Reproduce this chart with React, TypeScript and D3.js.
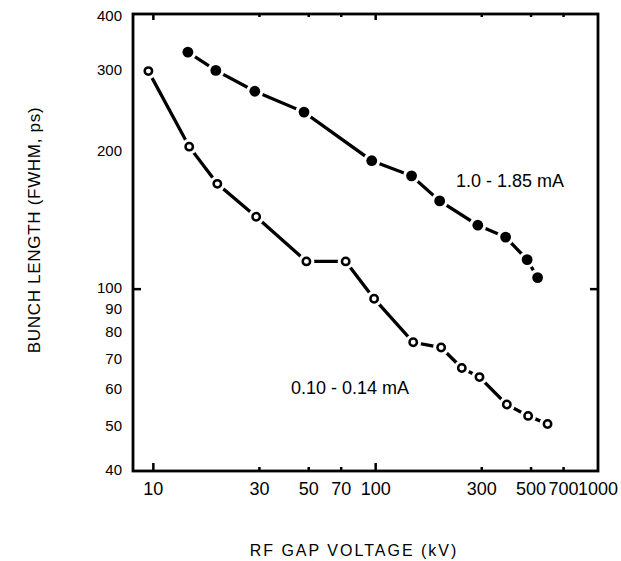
import React from "react";
import * as d3 from "d3";

// 1.0 - 1.85 mA (filled markers)
const highX = [14.3, 19.1, 28.6, 47.6, 96, 145, 194, 288, 384, 480, 535];
const highY = [330, 301, 271, 244, 191, 177, 156, 138, 130, 116, 106];

// 0.10 - 0.14 mA (open markers)
const lowX = [9.5, 14.5, 19.4, 29, 48.8, 73.3, 98.4, 147.5, 197, 244, 293, 389, 485, 593];
const lowY = [300, 205, 170, 144, 115, 115, 95.3, 76.5, 74.5, 67.2, 64.2, 55.9, 52.8, 50.7];

const xTickLabels = [10, 30, 50, 70, 100, 300, 500, 700, 1000];
const xMajor = [10, 100];
const xMinor = [30, 50, 70, 300, 500, 700];
const yTickLabels = [40, 50, 60, 70, 80, 90, 100, 200, 300, 400];

const W = 621;
const H = 561;
const font = "'Liberation Sans', Arial, Helvetica, sans-serif";

const App = () => {
  const x = d3.scaleLog().domain([8.1, 1000]).range([133, 598]);
  const y = d3.scaleLog().domain([40, 400]).range([471, 14]);

  const line = d3
    .line<[number, number]>()
    .x((d) => x(d[0]))
    .y((d) => y(d[1]));

  const high = highX.map((v, i) => [v, highY[i]] as [number, number]);
  const low = lowX.map((v, i) => [v, lowY[i]] as [number, number]);

  const [x0, x1] = x.range();
  const [y0, y1] = y.range();

  return (
    <svg
      width={W}
      height={H}
      style={{ position: "absolute", left: 0, top: 0, background: "#fff" }}
      fontFamily={font}
    >
      {/* lines with white gaps around markers */}
      <g>
        <path d={line(high) || ""} fill="none" stroke="#000" strokeWidth={3.3} />
        <path d={line(low) || ""} fill="none" stroke="#000" strokeWidth={3.3} />
        {high.map((d, i) => (
          <circle key={"hh" + i} cx={x(d[0])} cy={y(d[1])} r={8.5} fill="#fff" />
        ))}
        {low.map((d, i) => (
          <circle key={"lh" + i} cx={x(d[0])} cy={y(d[1])} r={8} fill="#fff" />
        ))}
        {high.map((d, i) => (
          <circle key={"hm" + i} cx={x(d[0])} cy={y(d[1])} r={5.4} fill="#000" />
        ))}
        {low.map((d, i) => (
          <circle
            key={"lm" + i}
            cx={x(d[0])}
            cy={y(d[1])}
            r={3.7}
            fill="#fff"
            stroke="#000"
            strokeWidth={2.5}
          />
        ))}
      </g>

      {/* frame */}
      <rect
        x={x0}
        y={y1}
        width={x1 - x0}
        height={y0 - y1}
        fill="none"
        stroke="#000"
        strokeWidth={2.8}
      />

      {/* x ticks, bottom and top, inward */}
      {xMajor.map((v) => (
        <g key={"xM" + v}>
          <line x1={x(v)} x2={x(v)} y1={y0} y2={y0 - 8} stroke="#000" strokeWidth={2.5} />
          <line x1={x(v)} x2={x(v)} y1={y1} y2={y1 + 6} stroke="#000" strokeWidth={2.5} />
        </g>
      ))}
      {xMinor.map((v) => (
        <g key={"xm" + v}>
          <line x1={x(v)} x2={x(v)} y1={y0} y2={y0 - 4} stroke="#000" strokeWidth={2.5} />
          <line x1={x(v)} x2={x(v)} y1={y1} y2={y1 + 3} stroke="#000" strokeWidth={2.5} />
        </g>
      ))}

      {/* y ticks at 100 */}
      <line x1={x0} x2={x0 + 8} y1={y(100)} y2={y(100)} stroke="#000" strokeWidth={2.5} />
      <line x1={x1} x2={x1 - 8} y1={y(100)} y2={y(100)} stroke="#000" strokeWidth={2.5} />

      {/* tick labels */}
      {xTickLabels.map((v) => (
        <text key={"xl" + v} x={x(v)} y={495} fontSize={18} textAnchor="middle">
          {v}
        </text>
      ))}
      {yTickLabels.map((v) => (
        <text
          key={"yl" + v}
          x={122}
          y={y(v) + (v === 400 ? 3 : 0)}
          fontSize={15}
          textAnchor="end"
          dominantBaseline="middle"
        >
          {v}
        </text>
      ))}

      {/* series labels */}
      <text x={456} y={187} fontSize={18}>
        1.0 - 1.85 mA
      </text>
      <text x={291} y={394} fontSize={18}>
        0.10 - 0.14 mA
      </text>

      {/* axis titles */}
      <text x={354} y={556} fontSize={16} letterSpacing={2} textAnchor="middle">
        RF GAP VOLTAGE (kV)
      </text>
      <text
        transform="translate(40,230) rotate(-90)"
        fontSize={17}
        letterSpacing={0.7}
        textAnchor="middle"
      >
        BUNCH LENGTH (FWHM, ps)
      </text>
    </svg>
  );
};

export default App;
